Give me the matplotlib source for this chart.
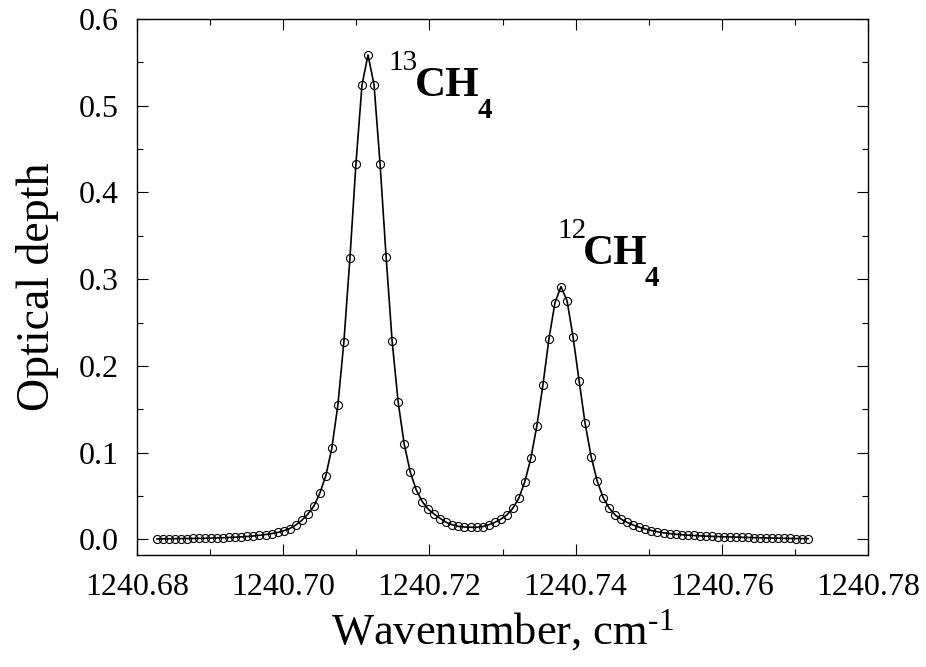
import matplotlib
matplotlib.use('Agg')
import matplotlib.pyplot as plt
from matplotlib.ticker import MultipleLocator, FormatStrFormatter

plt.rcParams['font.family'] = ['Liberation Serif', 'DejaVu Serif']
plt.rcParams['mathtext.fontset'] = 'custom'
plt.rcParams['mathtext.rm'] = 'Liberation Serif'
plt.rcParams['mathtext.it'] = 'Liberation Serif'
plt.rcParams['mathtext.default'] = 'regular'

# wavenumber grid, cm-1
wavenumber = [
    1240.68273, 1240.68355, 1240.68438, 1240.68520, 1240.68603, 1240.68685,
    1240.68768, 1240.68850, 1240.68933, 1240.69015, 1240.69098, 1240.69180,
    1240.69263, 1240.69345, 1240.69428, 1240.69510, 1240.69593, 1240.69675,
    1240.69758, 1240.69840, 1240.69923, 1240.70005, 1240.70088, 1240.70170,
    1240.70253, 1240.70335, 1240.70418, 1240.70500, 1240.70583, 1240.70665,
    1240.70748, 1240.70830, 1240.70913, 1240.70995, 1240.71078, 1240.71160,
    1240.71243, 1240.71325, 1240.71408, 1240.71490, 1240.71573, 1240.71655,
    1240.71738, 1240.71820, 1240.71903, 1240.71985, 1240.72068, 1240.72150,
    1240.72233, 1240.72315, 1240.72398, 1240.72480, 1240.72563, 1240.72645,
    1240.72728, 1240.72810, 1240.72893, 1240.72975, 1240.73058, 1240.73140,
    1240.73223, 1240.73305, 1240.73388, 1240.73470, 1240.73553, 1240.73635,
    1240.73718, 1240.73800, 1240.73883, 1240.73965, 1240.74048, 1240.74130,
    1240.74213, 1240.74295, 1240.74378, 1240.74460, 1240.74543, 1240.74625,
    1240.74708, 1240.74790, 1240.74873, 1240.74955, 1240.75038, 1240.75120,
    1240.75203, 1240.75285, 1240.75368, 1240.75450, 1240.75533, 1240.75615,
    1240.75698, 1240.75780, 1240.75863, 1240.75945, 1240.76028, 1240.76110,
    1240.76193, 1240.76275, 1240.76358, 1240.76440, 1240.76523, 1240.76605,
    1240.76688, 1240.76770, 1240.76853, 1240.76935, 1240.77018, 1240.77100,
    1240.77183,
]

optical_depth = [
    0.0005, 0.0006, 0.0007, 0.0008, 0.0009, 0.0010,
    0.0011, 0.0012, 0.0013, 0.0015, 0.0017, 0.0019,
    0.0022, 0.0025, 0.0029, 0.0034, 0.0040, 0.0047,
    0.0056, 0.0067, 0.0080, 0.0098, 0.0125, 0.0165,
    0.0218, 0.0290, 0.0382, 0.0530, 0.0734, 0.1050,
    0.1550, 0.2276, 0.3245, 0.4330, 0.5240, 0.5585,
    0.5240, 0.4330, 0.3255, 0.2287, 0.1580, 0.1100,
    0.0777, 0.0570, 0.0435, 0.0347, 0.0290, 0.0240,
    0.0195, 0.0168, 0.0150, 0.0143, 0.0140, 0.0140,
    0.0148, 0.0168, 0.0195, 0.0232, 0.0280, 0.0358,
    0.0474, 0.0665, 0.0935, 0.1310, 0.1780, 0.2310,
    0.2730, 0.2914, 0.2752, 0.2337, 0.1826, 0.1338,
    0.0953, 0.0673, 0.0480, 0.0360, 0.0280, 0.0232,
    0.0195, 0.0165, 0.0140, 0.0120, 0.0102, 0.0088,
    0.0076, 0.0067, 0.0060, 0.0054, 0.0049, 0.0045,
    0.0041, 0.0038, 0.0035, 0.0032, 0.0030, 0.0028,
    0.0026, 0.0024, 0.0022, 0.0020, 0.0018, 0.0017,
    0.0015, 0.0014, 0.0012, 0.0011, 0.0010, 0.0009,
    0.0008,
]

fig = plt.figure(figsize=(9.26, 6.67), dpi=100)
ax = fig.add_axes([137 / 926, 1 - 555 / 667, 731 / 926, 536 / 667])

ax.plot(wavenumber, optical_depth, '-', color='black', lw=1.2)
ax.plot(wavenumber, optical_depth, 'o', mfc='none', mec='black',
        ms=5.8, mew=0.8)

ax.set_xlim(1240.68, 1240.78)
ax.set_ylim(-0.018, 0.6)
ax.xaxis.set_major_locator(MultipleLocator(0.02))
ax.xaxis.set_minor_locator(MultipleLocator(0.01))
ax.yaxis.set_major_locator(MultipleLocator(0.1))
ax.yaxis.set_minor_locator(MultipleLocator(0.05))
ax.xaxis.set_major_formatter(FormatStrFormatter('%.2f'))
ax.yaxis.set_major_formatter(FormatStrFormatter('%.1f'))

ax.tick_params(which='both', direction='in', top=True, right=True,
               labelsize=23, pad=13, width=0.8)
ax.tick_params(which='major', length=8)
ax.tick_params(which='minor', length=4)
for s in ax.spines.values():
    s.set_linewidth(1.0)

ax.set_xlabel(r'Wavenumber, cm$^{\text{-}1}$', fontsize=32, labelpad=4)
ax.set_ylabel('Optical depth', fontsize=33, labelpad=14)

# peak labels
ax.text(1240.71434, 0.5412, '13', fontsize=21)
ax.text(1240.71803, 0.5112, 'CH', fontsize=31, fontweight='bold')
ax.text(1240.72660, 0.4860, '4', fontsize=21, fontweight='bold')
ax.text(1240.73746, 0.3475, '12', fontsize=21)
ax.text(1240.74101, 0.3175, 'CH', fontsize=31, fontweight='bold')
ax.text(1240.74944, 0.2923, '4', fontsize=21, fontweight='bold')

fig.savefig('out.png', dpi=100)
